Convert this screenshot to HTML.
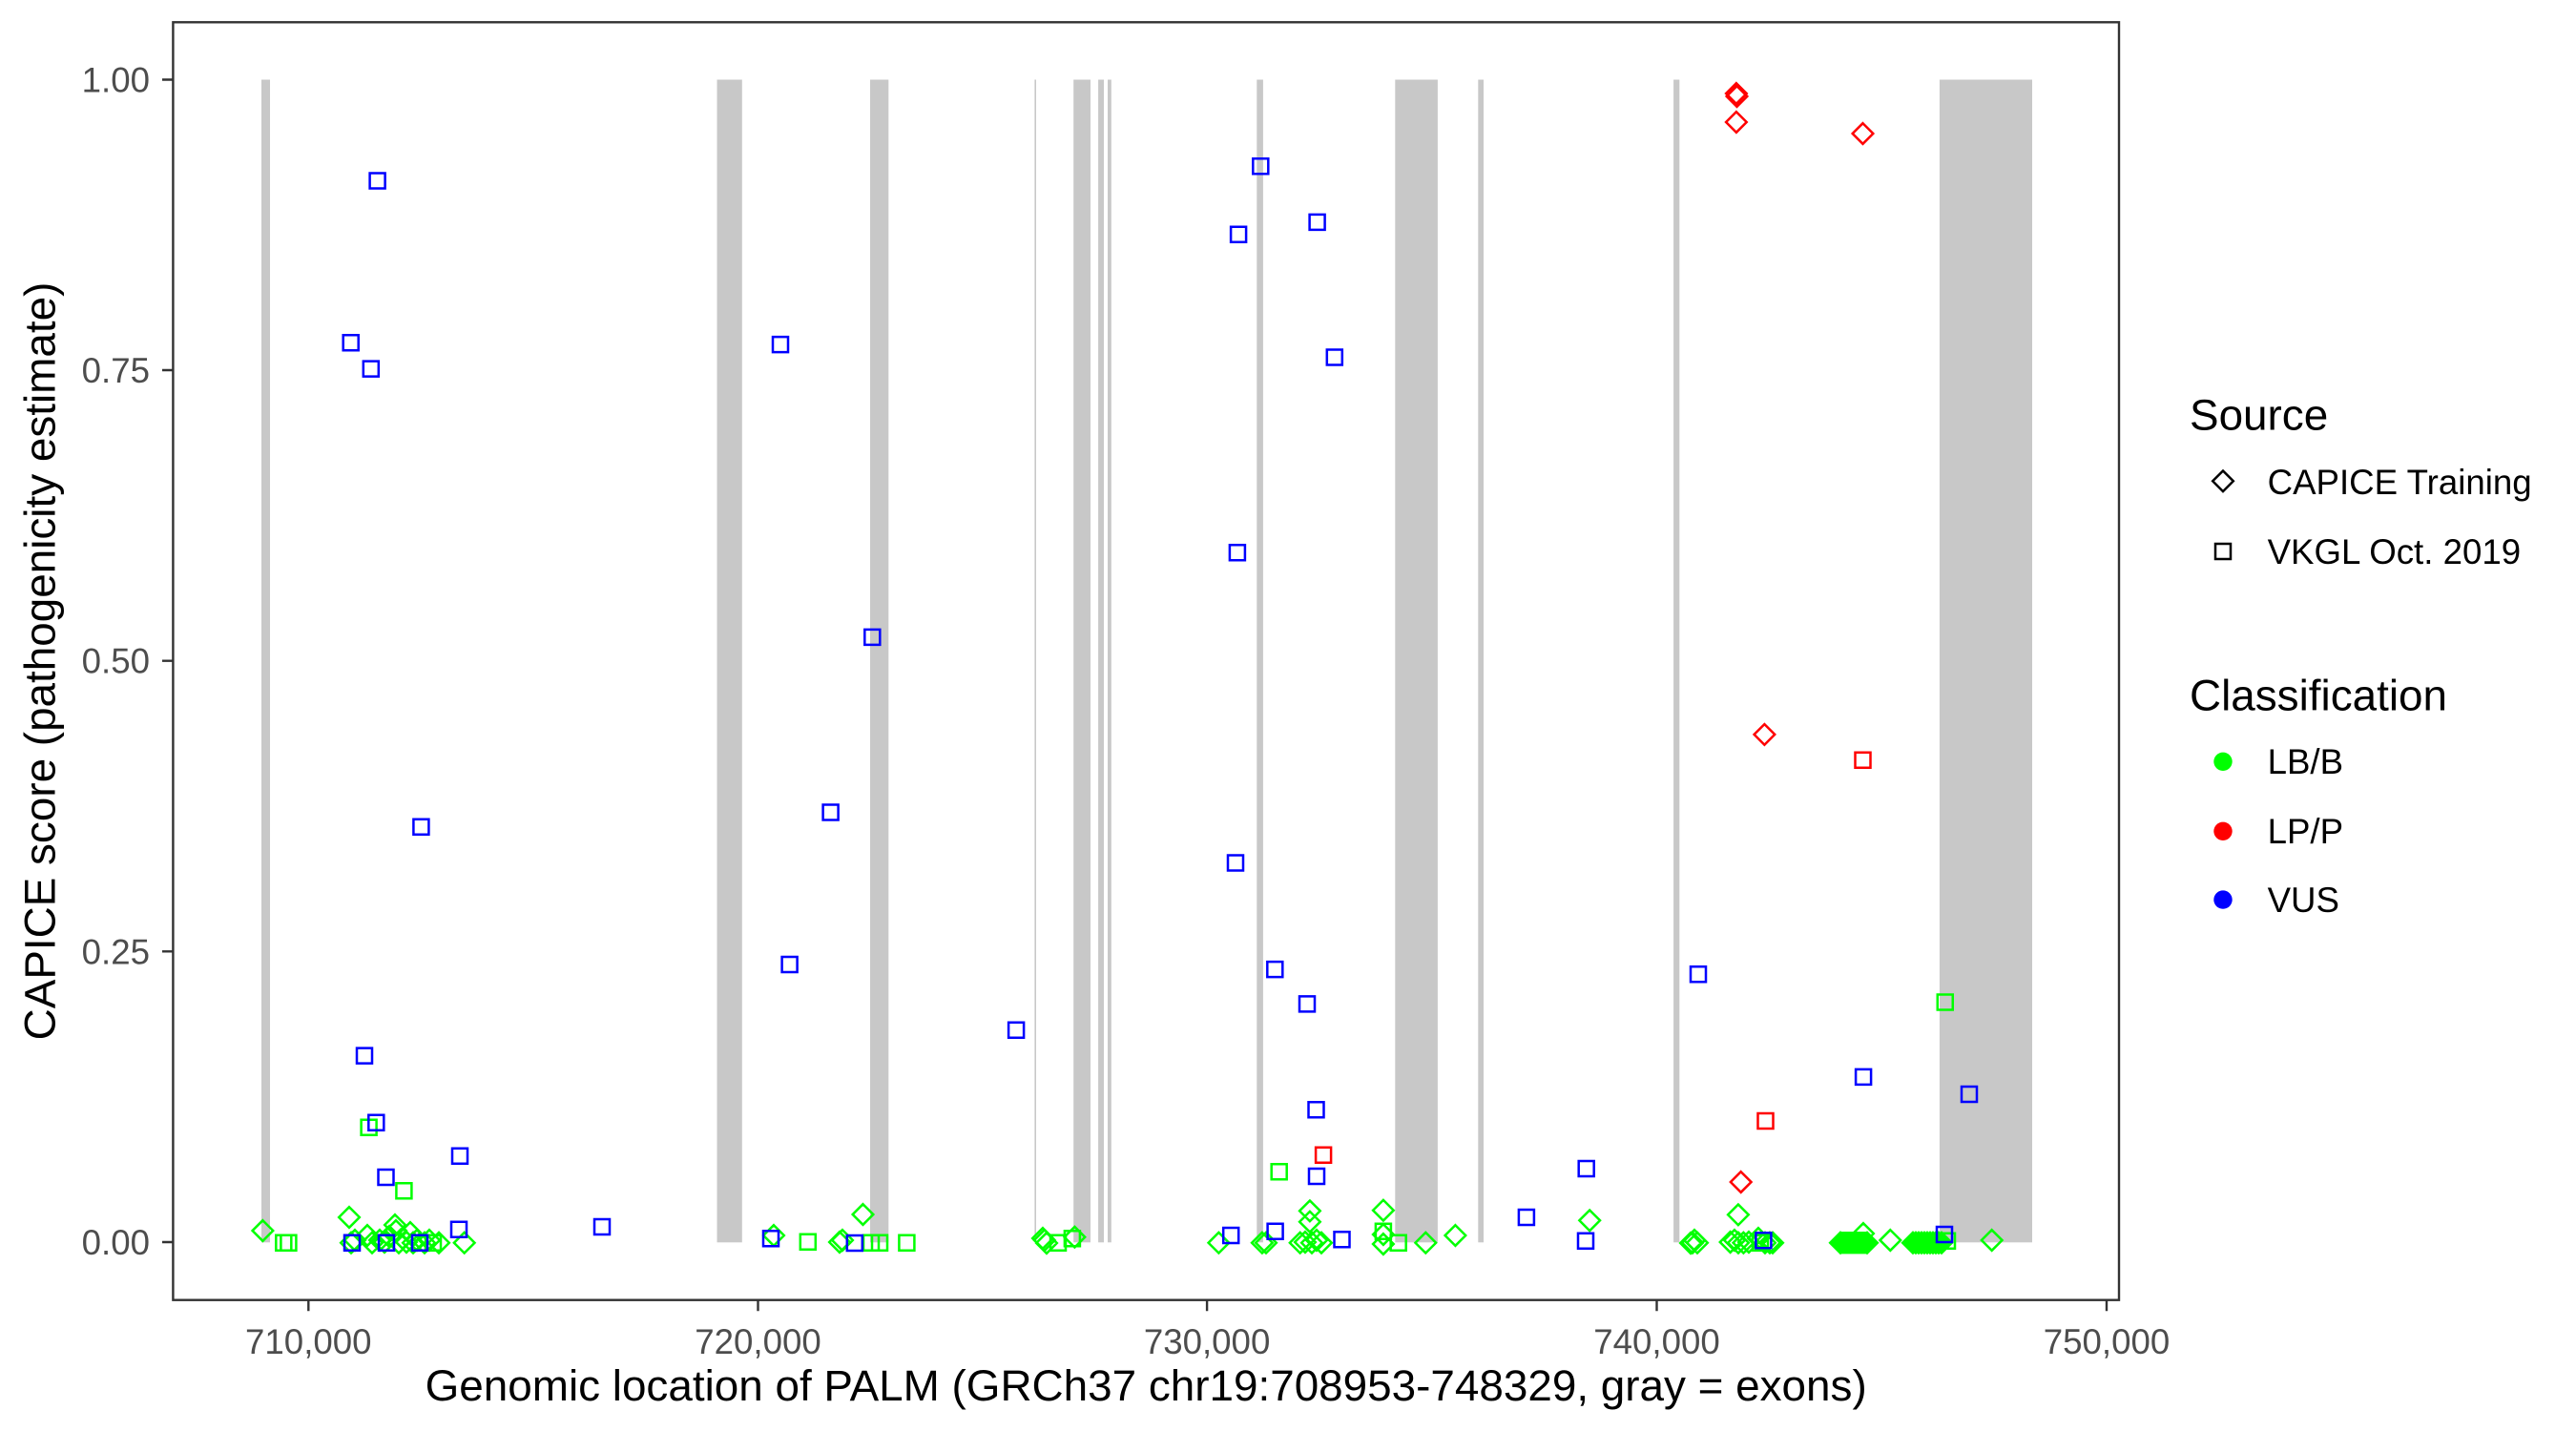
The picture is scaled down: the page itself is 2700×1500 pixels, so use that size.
<!DOCTYPE html>
<html><head><meta charset="utf-8"><style>
html,body{margin:0;padding:0;background:#fff;}
svg{display:block;}
text{font-family:"Liberation Sans",Arial,sans-serif;}
</style></head><body>
<svg width="2700" height="1500" viewBox="0 0 2700 1500" xmlns="http://www.w3.org/2000/svg">
<rect x="0" y="0" width="2700" height="1500" fill="#fff"/>
<g fill="#C8C8C8">
<rect x="274.0" y="83.5" width="9.0" height="1218.8"/>
<rect x="751.5" y="83.5" width="26.3" height="1218.8"/>
<rect x="912.0" y="83.5" width="19.3" height="1218.8"/>
<rect x="1084.4" y="83.5" width="1.6" height="1218.8"/>
<rect x="1125.2" y="83.5" width="17.8" height="1218.8"/>
<rect x="1151.1" y="83.5" width="5.9" height="1218.8"/>
<rect x="1161.0" y="83.5" width="3.8" height="1218.8"/>
<rect x="1317.3" y="83.5" width="6.6" height="1218.8"/>
<rect x="1462.3" y="83.5" width="44.6" height="1218.8"/>
<rect x="1549.3" y="83.5" width="5.7" height="1218.8"/>
<rect x="1754.1" y="83.5" width="6.2" height="1218.8"/>
<rect x="2032.9" y="83.5" width="97.1" height="1218.8"/>
</g>
<polygon fill="#00FF00" points="1918,1302.7 1929,1291 1957,1291 1968,1302.7 1957,1314.4 1929,1314.4"/>
<path fill="none" stroke="#00FF00" stroke-width="2.5" d="
M275.4 1279.2l10.8 10.8-10.8 10.8-10.8-10.8z M366 1265.2l10.8 10.8-10.8 10.8-10.8-10.8z M385 1284.2l10.8 10.8-10.8 10.8-10.8-10.8z
M368 1291.9l10.8 10.8-10.8 10.8-10.8-10.8z M372 1289.2l10.8 10.8-10.8 10.8-10.8-10.8z M390 1291.9l10.8 10.8-10.8 10.8-10.8-10.8z
M398 1289.2l10.8 10.8-10.8 10.8-10.8-10.8z M403 1291.2l10.8 10.8-10.8 10.8-10.8-10.8z M408 1285.2l10.8 10.8-10.8 10.8-10.8-10.8z
M414 1273.2l10.8 10.8-10.8 10.8-10.8-10.8z M415 1279.2l10.8 10.8-10.8 10.8-10.8-10.8z M418 1291.9l10.8 10.8-10.8 10.8-10.8-10.8z
M422 1287.2l10.8 10.8-10.8 10.8-10.8-10.8z M426 1291.2l10.8 10.8-10.8 10.8-10.8-10.8z M430 1281.2l10.8 10.8-10.8 10.8-10.8-10.8z
M433 1291.9l10.8 10.8-10.8 10.8-10.8-10.8z M437 1289.2l10.8 10.8-10.8 10.8-10.8-10.8z M445 1291.9l10.8 10.8-10.8 10.8-10.8-10.8z
M450 1289.2l10.8 10.8-10.8 10.8-10.8-10.8z M460 1291.9l10.8 10.8-10.8 10.8-10.8-10.8z M486.7 1291.9l10.8 10.8-10.8 10.8-10.8-10.8z
M811 1284.2l10.8 10.8-10.8 10.8-10.8-10.8z M880 1291.2l10.8 10.8-10.8 10.8-10.8-10.8z M883 1289.2l10.8 10.8-10.8 10.8-10.8-10.8z
M904.5 1262.2l10.8 10.8-10.8 10.8-10.8-10.8z M1093 1287.2l10.8 10.8-10.8 10.8-10.8-10.8z M1094.8 1289.2l10.8 10.8-10.8 10.8-10.8-10.8z
M1097 1292.2l10.8 10.8-10.8 10.8-10.8-10.8z M1126.4 1285.9l10.8 10.8-10.8 10.8-10.8-10.8z M1277.4 1291.9l10.8 10.8-10.8 10.8-10.8-10.8z
M1322.9 1291.9l10.8 10.8-10.8 10.8-10.8-10.8z M1327 1291.9l10.8 10.8-10.8 10.8-10.8-10.8z M1372.9 1258.5l10.8 10.8-10.8 10.8-10.8-10.8z
M1372.9 1269.9l10.8 10.8-10.8 10.8-10.8-10.8z M1362.7 1291.9l10.8 10.8-10.8 10.8-10.8-10.8z M1368 1291.2l10.8 10.8-10.8 10.8-10.8-10.8z
M1375 1291.9l10.8 10.8-10.8 10.8-10.8-10.8z M1380 1289.2l10.8 10.8-10.8 10.8-10.8-10.8z M1385 1291.9l10.8 10.8-10.8 10.8-10.8-10.8z
M1449.9 1257.9l10.8 10.8-10.8 10.8-10.8-10.8z M1449.9 1283.2l10.8 10.8-10.8 10.8-10.8-10.8z M1449.9 1293.2l10.8 10.8-10.8 10.8-10.8-10.8z
M1494.3 1291.9l10.8 10.8-10.8 10.8-10.8-10.8z M1525.4 1284.2l10.8 10.8-10.8 10.8-10.8-10.8z M1666.2 1268.5l10.8 10.8-10.8 10.8-10.8-10.8z
M1772 1292.2l10.8 10.8-10.8 10.8-10.8-10.8z M1774 1291.9l10.8 10.8-10.8 10.8-10.8-10.8z M1776 1289.2l10.8 10.8-10.8 10.8-10.8-10.8z
M1779 1291.9l10.8 10.8-10.8 10.8-10.8-10.8z M1821.9 1262.5l10.8 10.8-10.8 10.8-10.8-10.8z M1813.6 1291.2l10.8 10.8-10.8 10.8-10.8-10.8z
M1818 1289.2l10.8 10.8-10.8 10.8-10.8-10.8z M1822 1291.9l10.8 10.8-10.8 10.8-10.8-10.8z M1827.4 1291.9l10.8 10.8-10.8 10.8-10.8-10.8z
M1833 1291.2l10.8 10.8-10.8 10.8-10.8-10.8z M1843 1287.2l10.8 10.8-10.8 10.8-10.8-10.8z M1850 1291.9l10.8 10.8-10.8 10.8-10.8-10.8z
M1855 1291.9l10.8 10.8-10.8 10.8-10.8-10.8z M1858 1291.9l10.8 10.8-10.8 10.8-10.8-10.8z M1953 1282.2l10.8 10.8-10.8 10.8-10.8-10.8z
M1981.3 1289.2l10.8 10.8-10.8 10.8-10.8-10.8z M2087.7 1289.2l10.8 10.8-10.8 10.8-10.8-10.8z
M1929 1291.9l10.8 10.8-10.8 10.8-10.8-10.8z M1957 1291.9l10.8 10.8-10.8 10.8-10.8-10.8z
M2005 1291.9l10.8 10.8-10.8 10.8-10.8-10.8z M2008 1291.9l10.8 10.8-10.8 10.8-10.8-10.8z M2011 1291.9l10.8 10.8-10.8 10.8-10.8-10.8z
M2014 1291.9l10.8 10.8-10.8 10.8-10.8-10.8z M2017 1291.9l10.8 10.8-10.8 10.8-10.8-10.8z M2020 1291.9l10.8 10.8-10.8 10.8-10.8-10.8z
M2023 1291.9l10.8 10.8-10.8 10.8-10.8-10.8z M2026 1291.9l10.8 10.8-10.8 10.8-10.8-10.8z M2029 1291.9l10.8 10.8-10.8 10.8-10.8-10.8z
M2032 1291.9l10.8 10.8-10.8 10.8-10.8-10.8z M2035 1291.9l10.8 10.8-10.8 10.8-10.8-10.8z
"/>
<path fill="none" stroke="#00FF00" stroke-width="2.5" d="
M289.3 1294.7h16v16h-16z M294.4 1294.7h16v16h-16z M378.6 1173.7h16v16h-16z M415.4 1240.3h16v16h-16z M446 1294.7h16v16h-16z
M838.8 1293.7h16v16h-16z M905 1294.7h16v16h-16z M914 1294.7h16v16h-16z M942.4 1294.7h16v16h-16z
M1101 1294.7h16v16h-16z M1115.9 1290.3h16v16h-16z M1332.7 1220.3h16v16h-16z M1441.9 1282.7h16v16h-16z M1457.7 1294.7h16v16h-16z
M1837 1294.7h16v16h-16z M2033 1292.7h16v16h-16z M2030.75 1042.5h16v16h-16z
"/>
<path fill="none" stroke="#0000FF" stroke-width="2.5" d="
M387.6 181.5h16v16h-16z M359.7 351.2h16v16h-16z M380.8 378.6h16v16h-16z M433.4 858.8h16v16h-16z M374 1098.6h16v16h-16z
M386.3 1168.7h16v16h-16z M474 1203.7h16v16h-16z M396.5 1226h16v16h-16z M473 1280.7h16v16h-16z M361 1294.7h16v16h-16z
M397 1294.7h16v16h-16z M432 1294.7h16v16h-16z M623 1278h16v16h-16z M810 353.1h16v16h-16z M906.3 659.9h16v16h-16z
M862.6 843.5h16v16h-16z M819.6 1003h16v16h-16z M800 1290.3h16v16h-16z M887.8 1295h16v16h-16z M1057.1 1071.8h16v16h-16z
M1282.2 1287h16v16h-16z M1328.6 1282.7h16v16h-16z M1371.5 1155.3h16v16h-16z M1372 1225h16v16h-16z M1398.5 1291.3h16v16h-16z
M1591.9 1268h16v16h-16z M1654.7 1217h16v16h-16z M1654 1292.7h16v16h-16z M1313.3 166.2h16v16h-16z M1290.1 237.7h16v16h-16z
M1372.6 224.9h16v16h-16z M1390.8 366.5h16v16h-16z M1288.9 571.2h16v16h-16z M1287 896.5h16v16h-16z M1328.3 1008.1h16v16h-16z
M1362 1044.4h16v16h-16z M1772 1013.2h16v16h-16z M1945.1 1120.9h16v16h-16z M2056 1139h16v16h-16z M1840.4 1292.3h16v16h-16z
M2030 1286h16v16h-16z
"/>
<path fill="none" stroke="#FF0000" stroke-width="2.5" d="
M1379.1 1202.7h16v16h-16z M1944.5 788.7h16v16h-16z M1842.5 1167h16v16h-16z
M1819.9 87.2l10.8 10.8-10.8 10.8-10.8-10.8z M1820.5 90.2l10.8 10.8-10.8 10.8-10.8-10.8z M1819.9 117.2l10.8 10.8-10.8 10.8-10.8-10.8z
M1952.5 129.2l10.8 10.8-10.8 10.8-10.8-10.8z M1849.4 759.1l10.8 10.8-10.8 10.8-10.8-10.8z M1824.7 1228.2l10.8 10.8-10.8 10.8-10.8-10.8z
"/>
<rect x="181.4" y="23.3" width="2039.6" height="1339.4" fill="none" stroke="#333333" stroke-width="2.4"/>
<path stroke="#333333" stroke-width="2.4" d="M170 83.5H181.4 M170 388H181.4 M170 692.7H181.4 M170 997.3H181.4 M170 1302H181.4 M323.3 1362.7V1374.3 M794.5 1362.7V1374.3 M1265.1 1362.7V1374.3 M1736.5 1362.7V1374.3 M2208 1362.7V1374.3"/>
<g fill="#4D4D4D" font-size="36.67" text-anchor="end">
<text x="157" y="96.5">1.00</text>
<text x="157" y="401">0.75</text>
<text x="157" y="705.7">0.50</text>
<text x="157" y="1010.3">0.25</text>
<text x="157" y="1315">0.00</text>
</g>
<g fill="#4D4D4D" font-size="36.67" text-anchor="middle">
<text x="323.3" y="1419">710,000</text>
<text x="794.5" y="1419">720,000</text>
<text x="1265.1" y="1419">730,000</text>
<text x="1736.5" y="1419">740,000</text>
<text x="2208" y="1419">750,000</text>
</g>
<text x="1201.2" y="1468" font-size="45.83" text-anchor="middle" fill="#000">Genomic location of PALM (GRCh37 chr19:708953-748329, gray = exons)</text>
<text transform="translate(57.5,693) rotate(-90)" font-size="45.83" text-anchor="middle" fill="#000">CAPICE score (pathogenicity estimate)</text>
<text x="2295" y="450.5" font-size="45.83" fill="#000">Source</text>
<path fill="none" stroke="#000" stroke-width="2.5" d="M2330 493.5l10.8 10.8-10.8 10.8-10.8-10.8z M2322 570h16v16h-16z"/>
<text x="2376.6" y="518" font-size="36.67" fill="#000">CAPICE Training</text>
<text x="2376.6" y="591" font-size="36.67" fill="#000">VKGL Oct. 2019</text>
<text x="2295" y="744.3" font-size="45.83" fill="#000">Classification</text>
<circle cx="2330" cy="798.3" r="9.7" fill="#00FF00"/>
<circle cx="2330" cy="871.3" r="9.7" fill="#FF0000"/>
<circle cx="2330" cy="943.1" r="9.7" fill="#0000FF"/>
<text x="2376.6" y="811" font-size="36.67" fill="#000">LB/B</text>
<text x="2376.6" y="884" font-size="36.67" fill="#000">LP/P</text>
<text x="2376.6" y="956" font-size="36.67" fill="#000">VUS</text>
</svg>
</body></html>
